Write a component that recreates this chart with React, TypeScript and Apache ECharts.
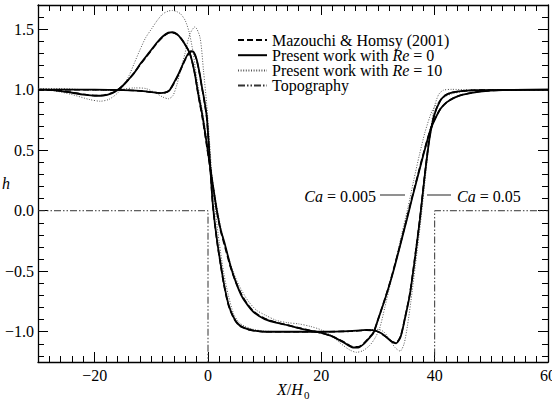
import React, { useEffect, useRef } from "react";
import * as echarts from "echarts";

// ---------- data ----------
type P = [number, number];

// Ca = 0.005, Re = 0 (present work, solid)
const ca005Re0: P[] = [
  [-30, 1.0], [-27, 0.995], [-24, 0.975], [-22, 0.96], [-20, 0.95], [-18.5, 0.952], [-17, 0.97],
  [-16, 0.995], [-15, 1.035], [-14, 1.085], [-13, 1.14], [-12, 1.21], [-11, 1.27], [-10, 1.33],
  [-9, 1.39], [-8, 1.44], [-7, 1.472], [-6.3, 1.475], [-5.5, 1.46], [-4.7, 1.42], [-4, 1.37],
  [-3.2, 1.3], [-2.4, 1.15], [-1.7, 0.96], [-1.0, 0.79], [-0.3, 0.58], [0.35, 0.37], [1.0, 0.17],
  [1.5, 0.02], [2.2, -0.15], [3, -0.28], [4, -0.46], [5, -0.6], [6, -0.71], [7, -0.78], [8, -0.835],
  [9, -0.87], [10, -0.895], [12, -0.925], [14, -0.945], [16, -0.97], [18, -0.99], [20, -1.01],
  [22, -1.04], [24, -1.09], [25.6, -1.13], [26.5, -1.13], [27.5, -1.1], [28.5, -1.05], [29.2, -1.01],
  [30, -0.9], [31.2, -0.735], [32.1, -0.6], [33, -0.45], [34, -0.27], [35.1, -0.07], [36, 0.1],
  [37, 0.28], [38, 0.46], [39.2, 0.66], [40, 0.75], [41, 0.84], [42.1, 0.895], [43.5, 0.935],
  [45, 0.96], [48, 0.985], [52, 0.997], [60, 1.0],
];

// Ca = 0.05, Re = 0 (present work, solid)
const ca05Re0: P[] = [
  [-30, 1.0], [-20, 1.0], [-15, 0.997], [-12, 0.99], [-10, 0.98], [-8.5, 0.972], [-7.6, 0.975],
  [-6.8, 0.995], [-6.1, 1.05], [-5.2, 1.13], [-4.35, 1.22], [-3.6, 1.29], [-3.0, 1.318], [-2.5, 1.31],
  [-2.0, 1.25], [-1.5, 1.14], [-1.1, 1.03], [-0.6, 0.9], [-0.2, 0.77], [0.35, 0.4], [0.8, 0.08],
  [1.2, -0.1], [1.7, -0.28], [2.2, -0.43], [2.8, -0.6], [3.6, -0.77], [4.5, -0.88], [5.4, -0.94],
  [6.5, -0.97], [8, -0.99], [10, -1.0], [15, -1.0], [20, -1.0], [25, -0.995], [28, -0.985],
  [29.5, -0.99], [30.5, -1.01], [31.5, -1.045], [32.5, -1.085], [33.2, -1.095], [34, -1.04],
  [34.8, -0.88], [35.6, -0.7], [36.5, -0.4], [37.4, -0.07], [38.2, 0.27], [39.1, 0.6], [40, 0.8],
  [41, 0.91], [41.8, 0.95], [43, 0.975], [45, 0.99], [48, 0.997], [60, 1.0],
];

// Mazouchi & Homsy (2001), Ca = 0.005 (dashed)
const mhCa005: P[] = [
  [-30, 1.0], [-27, 0.995], [-24, 0.977], [-22, 0.962], [-20, 0.952], [-18.5, 0.954], [-17, 0.972],
  [-16, 0.997], [-15, 1.035], [-14, 1.085], [-13, 1.14], [-12, 1.205], [-11, 1.265], [-10, 1.325],
  [-9, 1.385], [-8, 1.435], [-7, 1.468], [-6.3, 1.472], [-5.5, 1.458], [-4.7, 1.42], [-4, 1.37],
  [-3.2, 1.3], [-2.4, 1.15], [-1.7, 0.95], [-1.0, 0.77], [-0.3, 0.56], [0.35, 0.36], [1.0, 0.16],
  [1.5, 0.01], [2.2, -0.16], [3, -0.3], [4, -0.47], [5, -0.6], [6, -0.7], [7, -0.775], [8, -0.83],
  [9, -0.865], [10, -0.89], [12, -0.922], [14, -0.945], [16, -0.968], [18, -0.99], [20, -1.01],
  [22, -1.04], [24, -1.085], [25.6, -1.125], [26.5, -1.125], [27.5, -1.095], [28.5, -1.045],
  [29.2, -1.005], [30, -0.9], [31.2, -0.73], [32.1, -0.595], [33, -0.44], [34, -0.265], [35.1, -0.06],
  [36, 0.11], [37, 0.29], [38, 0.47], [39.2, 0.665], [40, 0.755], [41, 0.84], [42.1, 0.895],
  [43.5, 0.935], [45, 0.96], [48, 0.985], [52, 0.997], [60, 1.0],
];

// Mazouchi & Homsy (2001), Ca = 0.05 (dashed)
const mhCa05: P[] = [
  [-30, 1.0], [-20, 1.0], [-15, 0.997], [-12, 0.99], [-10, 0.98], [-8.5, 0.973], [-7.6, 0.976],
  [-6.8, 0.996], [-6.1, 1.045], [-5.2, 1.125], [-4.35, 1.215], [-3.6, 1.285], [-3.0, 1.312],
  [-2.5, 1.305], [-2.0, 1.245], [-1.5, 1.135], [-1.1, 1.025], [-0.6, 0.89], [-0.2, 0.76], [0.35, 0.39],
  [0.8, 0.07], [1.2, -0.11], [1.7, -0.29], [2.2, -0.44], [2.8, -0.61], [3.6, -0.78], [4.5, -0.885],
  [5.4, -0.945], [6.5, -0.972], [8, -0.99], [10, -1.0], [15, -1.0], [20, -1.0], [25, -0.996],
  [28, -0.988], [29.5, -0.992], [30.5, -1.012], [31.5, -1.045], [32.5, -1.082], [33.2, -1.09],
  [34, -1.035], [34.8, -0.875], [35.6, -0.69], [36.5, -0.39], [37.4, -0.06], [38.2, 0.28],
  [39.1, 0.61], [40, 0.805], [41, 0.912], [41.8, 0.952], [43, 0.976], [45, 0.99], [48, 0.997], [60, 1.0],
];

// Ca = 0.005, Re = 10 (present work, dotted)
const ca005Re10: P[] = [
  [-30, 1.0], [-27, 0.99], [-24, 0.96], [-21, 0.92], [-19, 0.905], [-17.5, 0.92], [-16, 0.97],
  [-15, 1.03], [-14, 1.11], [-13, 1.22], [-12, 1.33], [-11, 1.43], [-10, 1.5], [-9, 1.57],
  [-8, 1.625], [-7, 1.65], [-6.3, 1.655], [-5.5, 1.645], [-4.8, 1.625], [-4, 1.57], [-3.3, 1.47],
  [-2.6, 1.3], [-2, 1.1], [-1.4, 0.93], [-0.7, 0.74], [0, 0.52], [0.6, 0.32], [1.2, 0.13],
  [1.8, -0.03], [2.5, -0.19], [3.5, -0.37], [4.5, -0.51], [5.5, -0.62], [7, -0.74], [8.5, -0.82],
  [10, -0.86], [12, -0.905], [14, -0.925], [16, -0.935], [18, -0.955], [20, -0.985], [22, -1.04],
  [23.5, -1.1], [25, -1.15], [26.2, -1.17], [27.4, -1.155], [28.6, -1.11], [29.5, -1.05],
  [30.3, -0.97], [31.2, -0.8], [32.2, -0.6], [33.2, -0.4], [34.2, -0.19], [35.3, 0.03], [36.3, 0.25],
  [37.3, 0.46], [38.3, 0.65], [39.5, 0.82], [40.5, 0.89], [41.5, 0.935], [43, 0.965], [45, 0.985],
  [48, 0.995], [60, 1.0],
];

// Ca = 0.05, Re = 10 (present work, dotted)
const ca05Re10: P[] = [
  [-30, 1.01], [-26, 1.01], [-22, 1.0], [-18, 0.995], [-15, 1.005], [-13, 1.015], [-11, 1.01],
  [-9.5, 0.98], [-8, 0.94], [-7, 0.925], [-6.2, 0.95], [-5.5, 1.04], [-4.8, 1.17], [-4.06, 1.3],
  [-3.2, 1.46], [-2.3, 1.52], [-1.4, 1.43], [-0.8, 1.16], [-0.23, 0.88], [0.3, 0.55], [0.8, 0.22],
  [1.3, 0.0], [2.0, -0.27], [2.8, -0.52], [3.6, -0.7], [4.5, -0.85], [5.4, -0.92], [6.5, -0.955],
  [8, -0.98], [10, -0.995], [15, -1.0], [20, -1.0], [25, -0.995], [28, -0.985], [30, -0.98],
  [31, -1.0], [32, -1.06], [33, -1.13], [33.9, -1.16], [34.6, -1.1], [35.2, -0.95], [35.8, -0.75],
  [36.6, -0.45], [37.5, -0.1], [38.3, 0.25], [39.1, 0.6], [39.9, 0.85], [40.7, 0.96], [41.5, 0.995],
  [43, 1.003], [46, 1.0], [60, 1.0],
];

// Topography (trench from X = 0 to X = 40)
const topography: P[] = [
  [-30, 0], [0, 0], [0, -2], [40, -2], [40, 0], [60, 0],
];

// axes
const X_MIN = -30;
const X_MAX = 60;
const Y_MIN = -1.25;
const Y_MAX = 1.7;
const X_MAJOR = [-20, 0, 20, 40, 60];
const Y_MAJOR = [-1.0, -0.5, 0, 0.5, 1.0, 1.5];
const X_MINOR_STEP = 2;
const Y_MINOR_STEP = 0.1;

const LEGEND_NAMES = [
  "Mazouchi & Homsy (2001)",
  "Present work with Re = 0",
  "Present work with Re = 10",
  "Topography",
];

const SERIF = "Liberation Serif";

function range(a: number, b: number, step: number, dec: number): number[] {
  const out: number[] = [];
  const n = Math.round((b - a) / step);
  for (let i = 0; i <= n; i++) {
    out.push(Number((a + i * step).toFixed(dec)));
  }
  return out;
}

const minus = (s: string) => s.replace("-", "\u2212");

export default function App() {
  const ref = useRef<HTMLDivElement>(null);

  useEffect(() => {
    document.body.style.margin = "0";
    if (!ref.current) return;
    const chart = echarts.init(ref.current, undefined, { renderer: "svg" });

    const xMinor = range(X_MIN, X_MAX, X_MINOR_STEP, 0);
    const yMinor = range(-1.2, Y_MAX, Y_MINOR_STEP, 1);

    const tickBase = { show: true, inside: true, lineStyle: { color: "#000", width: 1 } };
    const xAxisCommon = { type: "value", min: X_MIN, max: X_MAX, splitLine: { show: false } };
    const yAxisCommon = { type: "value", min: Y_MIN, max: Y_MAX, splitLine: { show: false } };
    const labelFont = { color: "#000", fontFamily: SERIF, fontSize: 16, fontWeight: "normal" };

    const xAxes = [
      {
        ...xAxisCommon,
        position: "bottom",
        axisLine: { show: true, onZero: false, lineStyle: { color: "#000", width: 1.3 } },
        axisTick: { ...tickBase, length: 6, customValues: xMinor },
        axisLabel: {
          show: true,
          customValues: X_MAJOR,
          margin: 5,
          ...labelFont,
          formatter: (v: number) => minus(String(v)),
        },
      },
      {
        ...xAxisCommon,
        position: "bottom",
        axisLine: { show: false, onZero: false },
        axisTick: { ...tickBase, length: 10, customValues: X_MAJOR },
        axisLabel: { show: false },
      },
      {
        ...xAxisCommon,
        position: "top",
        axisLine: { show: true, onZero: false, lineStyle: { color: "#000", width: 1.3 } },
        axisTick: { ...tickBase, length: 6, customValues: xMinor },
        axisLabel: { show: false },
      },
      {
        ...xAxisCommon,
        position: "top",
        axisLine: { show: false, onZero: false },
        axisTick: { ...tickBase, length: 10, customValues: X_MAJOR },
        axisLabel: { show: false },
      },
    ];

    const yAxes = [
      {
        ...yAxisCommon,
        position: "left",
        axisLine: { show: true, onZero: false, lineStyle: { color: "#000", width: 1.3 } },
        axisTick: { ...tickBase, length: 6, customValues: yMinor },
        axisLabel: {
          show: true,
          customValues: Y_MAJOR,
          margin: 4,
          ...labelFont,
          formatter: (v: number) => minus(v.toFixed(1)),
        },
      },
      {
        ...yAxisCommon,
        position: "left",
        axisLine: { show: false, onZero: false },
        axisTick: { ...tickBase, length: 10, customValues: Y_MAJOR },
        axisLabel: { show: false },
      },
      {
        ...yAxisCommon,
        position: "right",
        axisLine: { show: true, onZero: false, lineStyle: { color: "#000", width: 1.3 } },
        axisTick: { ...tickBase, length: 6, customValues: yMinor },
        axisLabel: { show: false },
      },
      {
        ...yAxisCommon,
        position: "right",
        axisLine: { show: false, onZero: false },
        axisTick: { ...tickBase, length: 10, customValues: Y_MAJOR },
        axisLabel: { show: false },
      },
    ];

    const lineBase = {
      type: "line",
      showSymbol: false,
      symbol: "none",
      xAxisIndex: 0,
      yAxisIndex: 0,
      clip: true,
      silent: true,
    };

    const dashedStyle = { color: "#000", width: 1.6, type: [6, 3] };
    const solidStyle = { color: "#000", width: 1.8, type: "solid" };
    const dottedStyle = { color: "#555", width: 1, type: [1, 1.6] };
    const topoStyle = { color: "#333", width: 1, type: [7, 2, 1.5, 2, 1.5, 2] };
    const hiddenSymbol = (c: string) => ({ color: c, opacity: 0 });

    const series = [
      { ...lineBase, name: LEGEND_NAMES[0], data: mhCa005, smooth: 0.25, lineStyle: dashedStyle, itemStyle: hiddenSymbol("#000"), z: 3 },
      { ...lineBase, name: LEGEND_NAMES[1], data: ca005Re0, smooth: 0.25, lineStyle: solidStyle, itemStyle: hiddenSymbol("#000"), z: 4 },
      { ...lineBase, name: LEGEND_NAMES[2], data: ca005Re10, smooth: 0.25, lineStyle: dottedStyle, itemStyle: hiddenSymbol("#555"), z: 2 },
      { ...lineBase, name: LEGEND_NAMES[3], data: topography, smooth: false, lineStyle: topoStyle, itemStyle: hiddenSymbol("#333"), z: 1 },
      { ...lineBase, name: LEGEND_NAMES[0], data: mhCa05, smooth: 0.25, lineStyle: dashedStyle, itemStyle: hiddenSymbol("#000"), z: 3 },
      { ...lineBase, name: LEGEND_NAMES[1], data: ca05Re0, smooth: 0.25, lineStyle: solidStyle, itemStyle: hiddenSymbol("#000"), z: 4 },
      { ...lineBase, name: LEGEND_NAMES[2], data: ca05Re10, smooth: 0.25, lineStyle: dottedStyle, itemStyle: hiddenSymbol("#555"), z: 2 },
    ];

    const richItalic = { ...labelFont, fontStyle: "italic" };

    chart.setOption({
      animation: false,
      backgroundColor: "#fff",
      grid: { left: 38, right: 4, top: 5, bottom: 40, containLabel: false, outerBoundsMode: "none" },
      xAxis: xAxes,
      yAxis: yAxes,
      legend: {
        data: LEGEND_NAMES,
        orient: "vertical",
        left: 237,
        top: 32,
        padding: 0,
        itemGap: -0.8,
        itemWidth: 29,
        itemHeight: 10,
        selectedMode: false,
        itemStyle: { opacity: 0 },
        formatter: (name: string) => name.replace("Re =", "{i|Re} ="),
        textStyle: {
          ...labelFont,
          lineHeight: 16,
          rich: { i: { ...richItalic, lineHeight: 16 } },
        },
      },
      graphic: [
        // y-axis title
        {
          type: "text",
          x: 2,
          y: 183,
          style: {
            text: "h",
            align: "left",
            verticalAlign: "middle",
            fill: "#000",
            fontFamily: SERIF,
            fontSize: 16,
            fontStyle: "italic",
          },
        },
        // x-axis title
        {
          type: "text",
          x: 277,
          y: 389,
          style: {
            text: "{i|X}/{i|H}",
            align: "left",
            verticalAlign: "middle",
            fill: "#000",
            fontFamily: SERIF,
            fontSize: 16,
            rich: { i: richItalic },
          },
        },
        {
          type: "text",
          x: 304,
          y: 395,
          style: {
            text: "0",
            align: "left",
            verticalAlign: "middle",
            fill: "#000",
            fontFamily: SERIF,
            fontSize: 11,
          },
        },
        // Ca annotation
        {
          type: "text",
          x: 376,
          y: 196,
          style: {
            text: "{i|Ca} = 0.005",
            align: "right",
            verticalAlign: "middle",
            fill: "#000",
            fontFamily: SERIF,
            fontSize: 16,
            rich: { i: richItalic },
          },
        },
        {
          type: "line",
          shape: { x1: 380, y1: 195, x2: 405, y2: 195 },
          style: { stroke: "#555", lineWidth: 1.3 },
        },
        {
          type: "line",
          shape: { x1: 427, y1: 195, x2: 451, y2: 195 },
          style: { stroke: "#555", lineWidth: 1.3 },
        },
        {
          type: "text",
          x: 457,
          y: 196,
          style: {
            text: "{i|Ca} = 0.05",
            align: "left",
            verticalAlign: "middle",
            fill: "#000",
            fontFamily: SERIF,
            fontSize: 16,
            rich: { i: richItalic },
          },
        },
      ],
      series,
    });

    return () => chart.dispose();
  }, []);

  return <div ref={ref} style={{ width: 552, height: 402 }} />;
}
